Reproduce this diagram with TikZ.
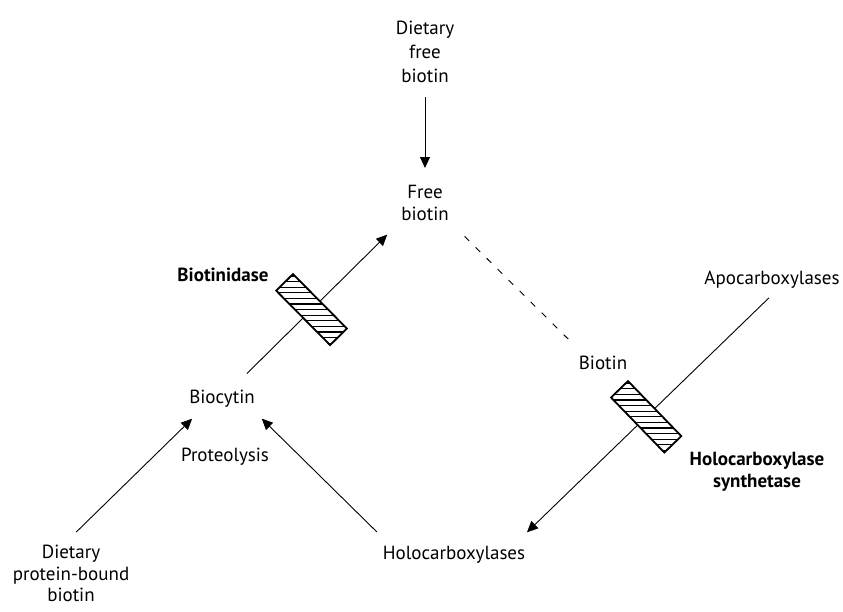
\documentclass[tikz,border=0pt]{standalone}
\usepackage{fontspec}
\setmainfont{PT Sans}
\usetikzlibrary{arrows.meta,calc}

\begin{document}
\begin{tikzpicture}[x=1pt,y=-1pt,>={Triangle[length=11pt,width=10pt]},
  every node/.style={font=\fontsize{19pt}{22pt}\selectfont,inner sep=0pt,align=center},
  conn/.style={line width=0.9pt},
  hatchbox/.style={draw,fill=white,line width=1.2pt,minimum width=23pt,minimum height=76pt,sloped,midway}]
\useasboundingbox[fill=white] (0,0) rectangle (843,611);
\node[anchor=north,font=\fontsize{19pt}{24pt}\selectfont] (dfree) at (425,21) {Dietary\\free\\biotin};
\node[anchor=north] (free) at (425,185) {Free\\biotin};
\node[anchor=base,font=\fontsize{19pt}{22pt}\selectfont\bfseries] (bnd) at (223,281) {Biotinidase};
\node[anchor=base] (biocytin) at (222,403) {Biocytin};
\node[anchor=base] (prot) at (225,461) {Proteolysis};
\node[anchor=north,font=\fontsize{19pt}{21.5pt}\selectfont] (dpb) at (71,545) {Dietary\\protein-bound\\biotin};
\node[anchor=base] (holo) at (454,559) {Holocarboxylases};
\node[anchor=base] (biotin) at (603,369) {Biotin};
\node[anchor=base] (apo) at (772,284) {Apocarboxylases};
\node[anchor=north,font=\fontsize{19pt}{21.5pt}\selectfont\bfseries] (hcs) at (757,452) {Holocarboxylase\\synthetase};

\draw[conn,->,shorten <=14pt,shorten >=17pt] (dfree.south) -- (free.north);
\draw[conn,->,shorten <=35pt,shorten >=19.5pt] (biocytin.center) -- (free.south west)
  node[hatchbox] (hb1) {};
\draw[conn,dash pattern=on 6.5pt off 9pt,shorten <=22pt,shorten >=20pt]
  (free.south east) -- ($(biotin.north west)+(6,0)$);
\draw[conn,->,shorten <=14pt,shorten >=19pt] ($(apo.south)+(7,0)$) -- ($(holo.north east)+(-12,0)$)
  node[hatchbox] (hb2) {};
\draw[conn,->,shorten <=18.4pt,shorten >=16.6pt] ($(dpb.north)+(-8,0)$) -- ($(biocytin.south)+(-18,0)$);
\draw[conn,->,shorten <=19.4pt,shorten >=16.5pt] ($(holo.north west)+(8,0)$) -- ($(biocytin.south)+(28,0)$);

\foreach \b in {hb1,hb2} {
  \begin{scope}
    \clip (\b.north west) -- (\b.north east) -- (\b.south east) -- (\b.south west) -- cycle;
    \foreach \k in {-7,...,7}
      \draw[line width=1.2pt] ($(\b.center)+(-45,\k*5.6)$) -- ++(90,0);
  \end{scope}
  \draw[line width=1.2pt] (\b.north west) -- (\b.north east) -- (\b.south east) -- (\b.south west) -- cycle;
}
\end{tikzpicture}
\end{document}
